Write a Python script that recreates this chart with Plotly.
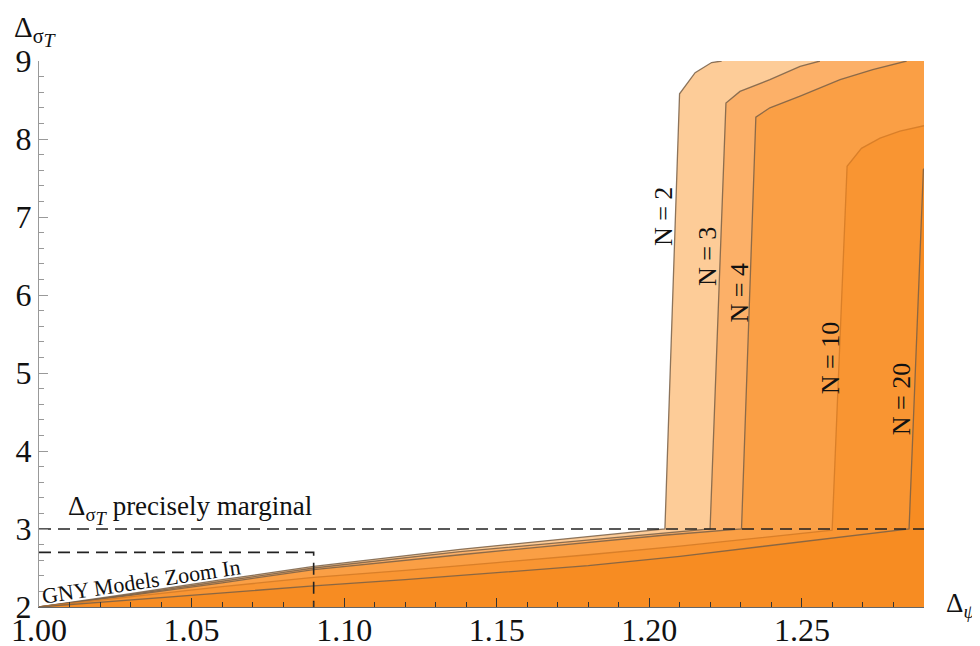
import plotly.graph_objects as go

# ---- data ----
labels = ["N = 2", "N = 3", "N = 4", "N = 10", "N = 20"]

n2_x = [1.000, 1.030, 1.060, 1.090, 1.138, 1.175, 1.2051, 1.2099, 1.2150, 1.2204, 1.2237]
n2_y = [2.000, 2.170, 2.350, 2.520, 2.740, 2.880, 3.000, 8.580, 8.850, 8.980, 9.000]

n3_x = [1.000, 1.030, 1.060, 1.090, 1.138, 1.2046, 1.2199, 1.2251, 1.2297, 1.2395, 1.2494, 1.2559]
n3_y = [2.000, 2.160, 2.330, 2.500, 2.710, 2.950, 3.000, 8.460, 8.610, 8.760, 8.930, 9.000]

n4_x = [1.000, 1.030, 1.060, 1.090, 1.138, 1.2046, 1.2302, 1.2349, 1.2395, 1.2494, 1.2625, 1.2732, 1.2843]
n4_y = [2.000, 2.150, 2.310, 2.480, 2.670, 2.920, 3.000, 8.280, 8.400, 8.550, 8.760, 8.890, 9.000]

n10_x = [1.000, 1.030, 1.060, 1.090, 1.120, 1.150, 1.180, 1.210, 1.240, 1.2599, 1.2648, 1.2695, 1.2756, 1.2821, 1.2900]
n10_y = [2.000, 2.130, 2.260, 2.380, 2.470, 2.570, 2.670, 2.780, 2.900, 2.985, 7.650, 7.880, 8.010, 8.100, 8.170]

n20_x = [1.000, 1.030, 1.060, 1.090, 1.120, 1.150, 1.180, 1.210, 1.240, 1.2851, 1.2898, 1.2900]
n20_y = [2.000, 2.090, 2.180, 2.270, 2.350, 2.440, 2.530, 2.650, 2.790, 3.000, 7.610, 7.620]

label_x = [1.2045, 1.2190, 1.2294, 1.2592, 1.2827]
label_y = [7.00, 6.49, 6.02, 5.19, 4.66]

x_min, x_max = 1.00, 1.29
y_min, y_max = 2.0, 9.0
x_ticks = [1.00, 1.05, 1.10, 1.15, 1.20, 1.25]
y_ticks = [2, 3, 4, 5, 6, 7, 8, 9]

marginal_y = 3.0
zoom_x, zoom_y = 1.09, 2.7

fill_colors = ["#FDCC98", "#FCB068", "#FA9F45", "#F99532", "#F78C22"]
edge_colors = ["rgba(120,95,70,0.85)", "rgba(120,95,70,0.85)", "rgba(120,95,70,0.85)",
               "rgba(215,125,40,0.95)", "rgba(120,95,70,0.85)"]

FONT = "Times New Roman, Liberation Serif, DejaVu Serif, serif"
SIGMA_T = "σ<sub><span style='font-size:140%'><i>T</i></span></sub>"

fig = go.Figure()

bounds = [(n2_x, n2_y), (n3_x, n3_y), (n4_x, n4_y), (n10_x, n10_y), (n20_x, n20_y)]
for (bx, by), fc in zip(bounds, fill_colors):
    px = list(bx) + [x_max, x_max, x_min]
    py = list(by) + [by[-1], y_min, y_min]
    fig.add_trace(go.Scatter(x=px, y=py, mode="lines", fill="toself", fillcolor=fc,
                             line=dict(width=0), hoverinfo="skip", showlegend=False))

for (bx, by), ec in zip(bounds, edge_colors):
    fig.add_trace(go.Scatter(x=bx, y=by, mode="lines", line=dict(color=ec, width=1.3),
                             hoverinfo="skip", showlegend=False))

# dashed reference lines
fig.add_trace(go.Scatter(x=[x_min, x_max], y=[marginal_y, marginal_y], mode="lines",
                         line=dict(color="#222", width=1.6, dash="12px,7px"),
                         hoverinfo="skip", showlegend=False))
fig.add_trace(go.Scatter(x=[x_min, zoom_x, zoom_x], y=[zoom_y, zoom_y, y_min], mode="lines",
                         line=dict(color="#222", width=1.6, dash="12px,7px"),
                         hoverinfo="skip", showlegend=False))

annotations = []
for t, lx, ly in zip(labels, label_x, label_y):
    annotations.append(dict(x=lx, y=ly, text=t, showarrow=False, textangle=-90,
                            font=dict(family=FONT, size=26, color="#111"),
                            xanchor="center", yanchor="middle"))

annotations.append(dict(x=1.0087, y=3.25, text="Δ<sub>" + SIGMA_T + "</sub> precisely marginal",
                        xanchor="left", yanchor="middle", showarrow=False,
                        font=dict(family=FONT, size=27, color="#111")))
annotations.append(dict(x=1.0334, y=2.33, text="GNY Models Zoom In", textangle=-8.5,
                        xanchor="center", yanchor="middle", showarrow=False,
                        font=dict(family=FONT, size=22, color="#111")))
annotations.append(dict(x=0.0, y=1.0, xref="paper", yref="paper", xanchor="left",
                        yanchor="bottom", yshift=8, xshift=-27,
                        text="Δ<sub>" + SIGMA_T + "</sub>", showarrow=False,
                        font=dict(family=FONT, size=29, color="#111")))
annotations.append(dict(x=1.0, y=0.0, xref="paper", yref="paper", xanchor="left",
                        yanchor="middle", xshift=20, yshift=2,
                        text="Δ<sub><i>ψ</i></sub>", showarrow=False,
                        font=dict(family=FONT, size=27, color="#111")))

# page has an 8px body offset: margins compensate so the plot area lands where the reference's is
fig.update_layout(
    width=980, height=646,
    margin=dict(l=30.5, r=63.7, t=53, b=46.7, autoexpand=False),
    paper_bgcolor="white", plot_bgcolor="white",
    annotations=annotations,
    xaxis=dict(range=[x_min, x_max], tickvals=x_ticks, ticktext=[f"{v:.2f}" for v in x_ticks],
               automargin=False, ticklabelstandoff=-5,
               showgrid=False, zeroline=False, showline=True, linecolor="#666", linewidth=1,
               ticks="inside", ticklen=9, tickcolor="#333", tickwidth=1,
               minor=dict(dtick=0.01, ticks="inside", ticklen=5, tickcolor="#333", tickwidth=1,
                          showgrid=False),
               tickfont=dict(family=FONT, size=32, color="#111")),
    yaxis=dict(range=[y_min, y_max], tickvals=y_ticks, ticktext=[str(v) for v in y_ticks],
               automargin=False,
               showgrid=False, zeroline=False, showline=True, linecolor="#999", linewidth=1,
               ticks="inside", ticklen=9, tickcolor="#999", tickwidth=1,
               minor=dict(dtick=0.2, ticks="inside", ticklen=5, tickcolor="#999", tickwidth=1,
                          showgrid=False),
               tickfont=dict(family=FONT, size=32, color="#111")),
)

fig.write_html("out.html")
